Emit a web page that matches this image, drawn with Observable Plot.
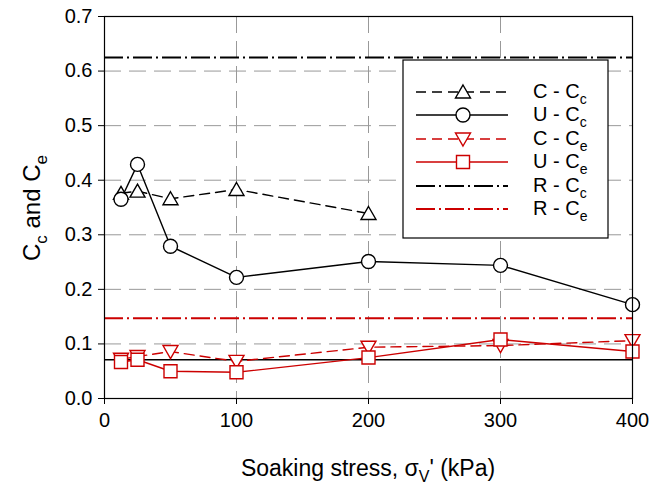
<!DOCTYPE html>
<html>
<head>
<meta charset="utf-8">
<script src="https://cdn.jsdelivr.net/npm/d3@7"></script>
<script src="https://cdn.jsdelivr.net/npm/@observablehq/plot@0.6"></script>
<style>
  html, body { margin: 0; padding: 0; background: white; }
  g[aria-label="x-axis tick label"] text, g[aria-label="y-axis tick label"] text { font-size: 20px !important; }
  g[aria-label="x-axis tick label"], g[aria-label="y-axis tick label"] { font-size: 20px !important; }
</style>
</head>
<body>
<div id="chart"></div>
<script>
// ---- data ----
const stressC = [12.5, 25, 50, 100, 200];
const stressU = [12.5, 25, 50, 100, 200, 300, 400];
const C_Cc = [0.376, 0.380, 0.366, 0.383, 0.339];
const U_Cc = [0.365, 0.429, 0.279, 0.222, 0.251, 0.244, 0.172];
const C_Ce = [0.072, 0.077, 0.086, 0.068, 0.094, 0.097, 0.106];
const U_Ce = [0.067, 0.071, 0.050, 0.048, 0.075, 0.108, 0.086];
const R_Cc = 0.625;
const R_Ce = 0.147;
const baseLine = 0.071;
const xTicks = [0, 100, 200, 300, 400];
const yTicks = [0, 0.1, 0.2, 0.3, 0.4, 0.5, 0.6, 0.7];
const xGrid = [100, 200, 300];
const yGrid = [0.1, 0.2, 0.3, 0.4, 0.5, 0.6];
const legendLabels = [["C - C", "c"], ["U - C", "c"], ["C - C", "e"], ["U - C", "e"], ["R - C", "c"], ["R - C", "e"]];

const RED = "#cc0000";
const FONT = "'Liberation Sans', Arial, sans-serif";

const toRows = (xs, ys) => xs.map((x, i) => ({x, y: ys[i]}));
const rowsCCc = toRows(stressC, C_Cc);
const rowsUCc = toRows(stressU, U_Cc);
const rowsCCe = toRows(stressU, C_Ce);
const rowsUCe = toRows(stressU, U_Ce);

// custom symbols
const triUp = {draw(c) { c.moveTo(0, -7); c.lineTo(7.5, 6); c.lineTo(-7.5, 6); c.closePath(); }};
const triDown = {draw(c) { c.moveTo(0, 7); c.lineTo(7.5, -6); c.lineTo(-7.5, -6); c.closePath(); }};
const sq = {draw(c) { c.rect(-6.5, -6.5, 13, 13); }};
const circ = {draw(c) { c.moveTo(7, 0); c.arc(0, 0, 7, 0, 2 * Math.PI); c.closePath(); }};

const DASH = "10,6";
const DASHDOT = "19,4,2,4";

const chart = Plot.plot({
  width: 651,
  height: 487,
  marginLeft: 104,
  marginRight: 19,
  marginTop: 16,
  marginBottom: 89,
  style: {fontFamily: FONT, fontSize: "20px", background: "white", color: "black"},
  x: {domain: [0, 400]},
  y: {domain: [0, 0.7]},
  marks: [
    Plot.gridX(xGrid, {stroke: "#999", strokeOpacity: 1, strokeWidth: 1, strokeDasharray: "17,8"}),
    Plot.gridY(yGrid, {stroke: "#999", strokeOpacity: 1, strokeWidth: 1, strokeDasharray: "17,8"}),
    Plot.ruleY([R_Cc], {stroke: "black", strokeWidth: 2, strokeDasharray: DASHDOT}),
    Plot.ruleY([R_Ce], {stroke: RED, strokeWidth: 2, strokeDasharray: DASHDOT}),
    Plot.ruleY([baseLine], {stroke: "black", strokeWidth: 1.3}),
    Plot.line(rowsCCc, {x: "x", y: "y", stroke: "black", strokeWidth: 1.4, strokeDasharray: DASH}),
    Plot.line(rowsUCc, {x: "x", y: "y", stroke: "black", strokeWidth: 1.4}),
    Plot.line(rowsCCe, {x: "x", y: "y", stroke: RED, strokeWidth: 1.4, strokeDasharray: DASH}),
    Plot.line(rowsUCe, {x: "x", y: "y", stroke: RED, strokeWidth: 1.4}),
    Plot.dot(rowsCCc, {x: "x", y: "y", symbol: triUp, r: 7, fill: "white", stroke: "black", strokeWidth: 1.4}),
    Plot.dot(rowsUCc, {x: "x", y: "y", symbol: circ, r: 7, fill: "white", stroke: "black", strokeWidth: 1.4}),
    Plot.dot(rowsCCe, {x: "x", y: "y", symbol: triDown, r: 7, fill: "white", stroke: RED, strokeWidth: 1.4}),
    Plot.dot(rowsUCe, {x: "x", y: "y", symbol: sq, r: 7, fill: "white", stroke: RED, strokeWidth: 1.4}),
    Plot.frame({stroke: "black", strokeWidth: 1.2}),
    Plot.axisX(xTicks, {tickSize: 6, tickPadding: 8, label: null, fontSize: 20}),
    Plot.axisY(yTicks, {tickSize: 6, tickPadding: 6, label: null, tickFormat: d3.format(".1f"), fontSize: 20})
  ]
});

document.getElementById("chart").appendChild(chart);

// ---- legend & axis labels ----
const svg = d3.select(chart);
const lg = svg.append("g").attr("font-family", FONT).attr("text-anchor", "start");
lg.append("rect").attr("x", 403).attr("y", 60).attr("width", 205).attr("height", 178)
  .attr("fill", "white").attr("stroke", "black").attr("stroke-width", 1.2);
const rowY = [92, 115, 139, 162, 186, 209];
const styles = [
  {stroke: "black", dash: DASH, sym: triUp, w: 1.4},
  {stroke: "black", dash: null, sym: circ, w: 1.4},
  {stroke: RED, dash: DASH, sym: triDown, w: 1.4},
  {stroke: RED, dash: null, sym: sq, w: 1.4},
  {stroke: "black", dash: DASHDOT, sym: null, w: 2},
  {stroke: RED, dash: DASHDOT, sym: null, w: 2}
];
styles.forEach((s, i) => {
  const y = rowY[i];
  lg.append("line").attr("x1", 416).attr("x2", 508).attr("y1", y).attr("y2", y)
    .attr("stroke", s.stroke).attr("stroke-width", s.w).attr("stroke-dasharray", s.dash);
  if (s.sym) {
    const p = d3.path(); s.sym.draw(p);
    lg.append("path").attr("d", p.toString()).attr("transform", `translate(463,${y})`)
      .attr("fill", "white").attr("stroke", s.stroke).attr("stroke-width", 1.4);
  }
  const t = lg.append("text").attr("x", 533).attr("y", y + 6).attr("font-size", 20).attr("fill", "black");
  t.append("tspan").text(legendLabels[i][0]);
  t.append("tspan").attr("dy", 6).attr("font-size", 14).text(legendLabels[i][1]);
});

// y label
const yl = svg.append("text").attr("font-family", FONT).attr("font-size", 24).attr("fill", "black")
  .attr("text-anchor", "middle").attr("transform", "translate(40,208) rotate(-90)");
yl.append("tspan").text("C");
yl.append("tspan").attr("dy", 7).attr("font-size", 17).text("c");
yl.append("tspan").attr("dy", -7).text(" and C");
yl.append("tspan").attr("dy", 7).attr("font-size", 17).text("e");

// x label
const xl = svg.append("text").attr("font-family", FONT).attr("font-size", 23).attr("fill", "black")
  .attr("text-anchor", "middle").attr("x", 368).attr("y", 476);
xl.append("tspan").text("Soaking stress, σ");
xl.append("tspan").attr("dy", 6).attr("font-size", 16).text("V");
xl.append("tspan").attr("dy", -6).text("' (kPa)");
</script>
</body>
</html>
